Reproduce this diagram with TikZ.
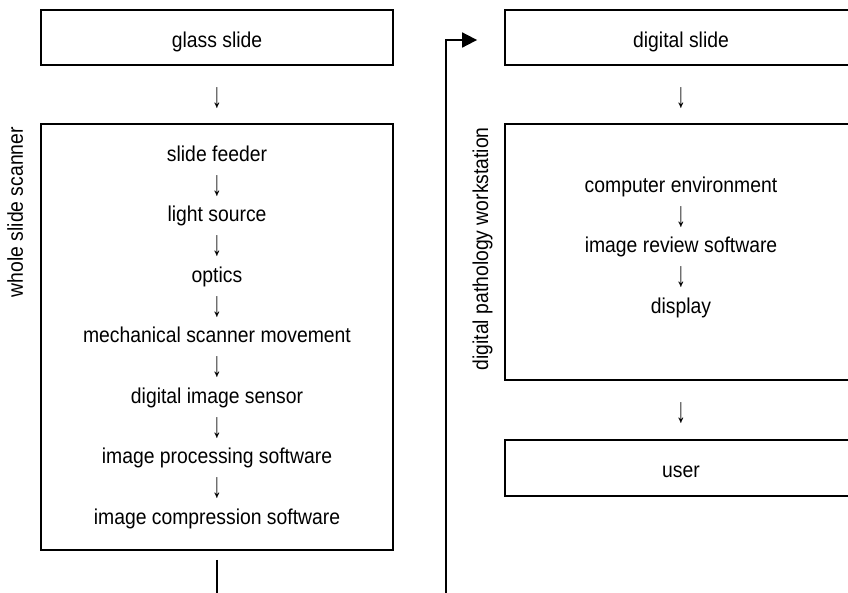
\documentclass[tikz,border=0pt]{standalone}
\usepackage{fontspec}
\setmainfont[FakeStretch=0.9]{Liberation Sans}
\usetikzlibrary{arrows.meta}
\newcommand{\downglyph}{\scalebox{1}[1.65]{↓}}
\begin{document}
\begin{tikzpicture}[x=1pt,y=-1pt,
  box/.style={draw, line width=1.8pt, minimum width=352pt, inner sep=0pt},
  lbl/.style={font=\fontsize{21.5}{30.25}\selectfont, inner sep=0pt, anchor=base},
  side/.style={font=\fontsize{21.5}{30.25}\selectfont, inner sep=0pt, rotate=90, anchor=base east},
  link/.style={line width=1.8pt}]
\useasboundingbox (0,0) rectangle (848,592);
\clip (0,0) rectangle (848,592);

% frames
\node[box, minimum height=55pt] (glass) at (217,37.5) {};
\node[box, minimum height=426pt] (scanner) at (217,337) {};
\node[box, minimum height=55pt] (digital) at (681,37.5) {};
\node[box, minimum height=256pt] (station) at (681,252) {};
\node[box, minimum height=56pt] (user) at (681,468) {};

% box texts
\node[lbl] (glasstext) at (217,47.5) {glass slide};
\node[lbl] (digitaltext) at (681,47.5) {digital slide};
\node[lbl] (usertext) at (681,477) {user};
\node[lbl] (glassdown) at (217,107) {\downglyph};
\node[lbl] (digitaldown) at (681,107) {\downglyph};
\node[lbl] (stationdown) at (681,422) {\downglyph};

% scanner components
\foreach \t [count=\i from 0] in {slide feeder, light source, optics,
    mechanical scanner movement, digital image sensor,
    image processing software, image compression software}
  \node[lbl] (scan\i) at ({217},{161+60.5*\i}) {\t};
\foreach \i in {0,...,5}
  \node[lbl] (scandown\i) at ({217},{195.25+60.5*\i}) {\downglyph};

% workstation components
\foreach \t [count=\i from 0] in {computer environment, image review software, display}
  \node[lbl] (work\i) at ({681},{192+60.5*\i}) {\t};
\foreach \i in {0,1}
  \node[lbl] (workdown\i) at ({681},{226.25+60.5*\i}) {\downglyph};

% group labels
\node[side] (scannerlabel) at (23,127) {whole slide scanner};
\node[side] (stationlabel) at (488,127) {digital pathology workstation};

% scanner output fed to the digital slide
\draw[link, -{Triangle[length=15pt,width=15pt]}]
  ([yshift=-9pt]scanner.south) -- ++(0,60) -| (446,40)
  -- ([xshift=-27pt,yshift=-2.5pt]digital.west);
\end{tikzpicture}
\end{document}
